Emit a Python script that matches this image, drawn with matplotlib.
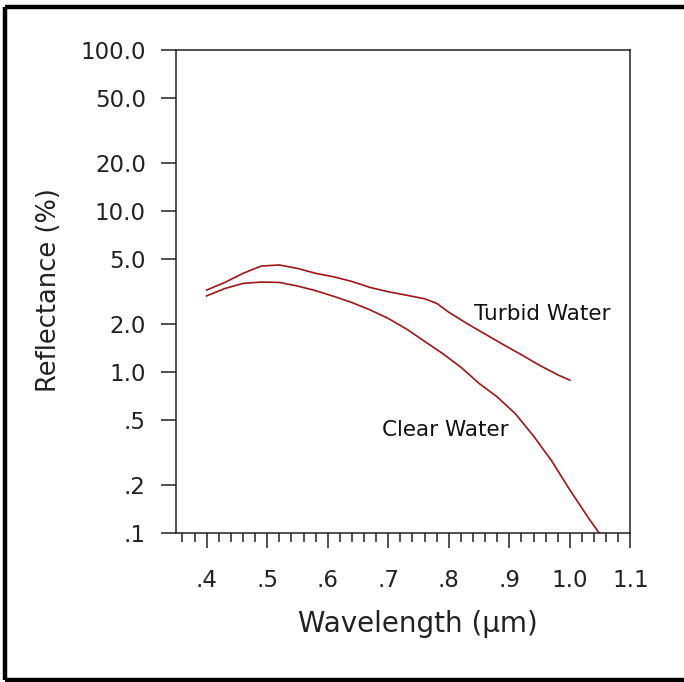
import matplotlib
matplotlib.use("Agg")
import matplotlib.pyplot as plt
from matplotlib.ticker import FixedLocator, NullLocator
from matplotlib.lines import Line2D

# wavelength (um) and reflectance (%)
clear_x = [0.40, 0.43, 0.46, 0.49, 0.52, 0.55, 0.58, 0.61, 0.64, 0.67, 0.70, 0.73,
           0.76, 0.79, 0.82, 0.85, 0.88, 0.91, 0.94, 0.97, 1.00, 1.03, 1.05]
clear_y = [2.97, 3.30, 3.55, 3.62, 3.60, 3.42, 3.20, 2.95, 2.70, 2.43, 2.15, 1.85,
           1.55, 1.30, 1.07, 0.85, 0.70, 0.55, 0.40, 0.28, 0.185, 0.125, 0.098]

turbid_x = [0.40, 0.43, 0.46, 0.49, 0.52, 0.55, 0.58, 0.61, 0.64, 0.67, 0.70, 0.73,
            0.76, 0.78, 0.80, 0.83, 0.86, 0.89, 0.92, 0.95, 0.98, 1.00]
turbid_y = [3.23, 3.60, 4.10, 4.55, 4.62, 4.40, 4.10, 3.90, 3.65, 3.35, 3.15, 3.00,
            2.85, 2.67, 2.35, 2.00, 1.72, 1.48, 1.28, 1.10, 0.96, 0.89]

xticks = [0.4, 0.5, 0.6, 0.7, 0.8, 0.9, 1.0, 1.1]
xlabels = [".4", ".5", ".6", ".7", ".8", ".9", "1.0", "1.1"]
xminor = [0.36 + 0.02 * i for i in range(37)]
yticks = [0.1, 0.2, 0.5, 1, 2, 5, 10, 20, 50, 100]
ylabels = [".1", ".2", ".5", "1.0", "2.0", "5.0", "10.0", "20.0", "50.0", "100.0"]

plt.rcParams["font.family"] = ["DejaVu Sans"]
W, H = 684, 682
fig = plt.figure(figsize=(W / 100, H / 100), dpi=100)
ax = fig.add_axes([176.4 / W, 1 - 533 / H, 454 / W, 483 / H])

line_col = "#9e1616"
ax.plot(turbid_x, turbid_y, color=line_col, lw=1.2)
ax.plot(clear_x, clear_y, color=line_col, lw=1.2)

ax.set_yscale("log")
ax.set_xlim(0.35, 1.1)
ax.set_ylim(0.1, 100)

ax.xaxis.set_major_locator(FixedLocator(xticks))
ax.set_xticklabels(xlabels)
ax.xaxis.set_minor_locator(FixedLocator([v for v in xminor if round(v * 10, 6) % 1 != 0]))
ax.yaxis.set_major_locator(FixedLocator(yticks))
ax.set_yticklabels(ylabels)
ax.yaxis.set_minor_locator(NullLocator())

spine_col = "#222222"
for s in ax.spines.values():
    s.set_color(spine_col)
    s.set_linewidth(1.1)

ax.tick_params(axis="x", which="major", direction="out", length=11, width=1.1,
               color=spine_col, pad=15, labelsize=16.5, labelcolor="#222222")
ax.tick_params(axis="x", which="minor", direction="out", length=6.5, width=1.1,
               color=spine_col)
ax.tick_params(axis="y", which="major", direction="out", length=11, width=1.1,
               color=spine_col, pad=11, labelsize=16.5, labelcolor="#222222")

ax.set_xlabel("Wavelength (\u00b5m)", fontsize=20, color="#222222")
ax.xaxis.set_label_coords(0.532, -0.16)
ax.set_ylabel("Reflectance (%)", fontsize=18.5, color="#222222")
ax.yaxis.set_label_coords(-0.252, 0.503)

ax.text(0.954, 2.29, "Turbid Water", fontsize=15.5, color="#111111",
        ha="center", va="center")
ax.text(0.795, 0.436, "Clear Water", fontsize=15.5, color="#111111",
        ha="center", va="center")

# outer frame: top, left, bottom
fx = lambda p: p / W
fy = lambda p: 1 - p / H
frame = dict(color="black", lw=3.2, transform=fig.transFigure, solid_capstyle="butt")
fig.add_artist(Line2D([fx(5), 1], [fy(7), fy(7)], **frame))
fig.add_artist(Line2D([fx(5), fx(5)], [fy(7), fy(680)], **frame))
fig.add_artist(Line2D([fx(5), 1], [fy(680), fy(680)], **frame))

fig.savefig("out.png", dpi=100)
